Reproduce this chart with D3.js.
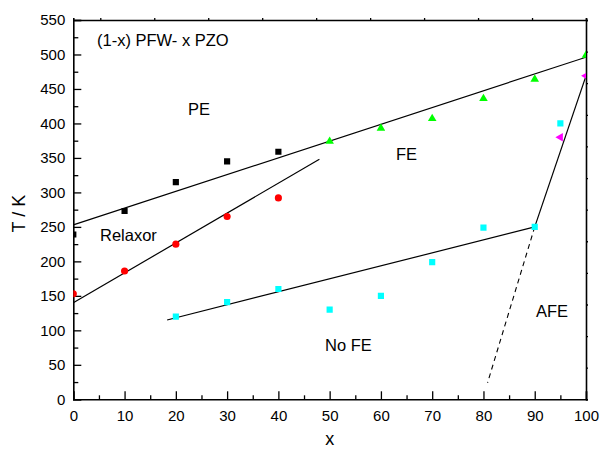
<!DOCTYPE html>
<html><head><meta charset="utf-8">
<script src="https://cdn.jsdelivr.net/npm/d3@7/dist/d3.min.js"></script>
<style>body{margin:0;background:#fff}svg{display:block}text{font-family:"Liberation Sans",Arial,sans-serif}</style>
</head><body><svg id="c" width="600" height="451"></svg>
<script>
// Data
const peX = [0, 10, 20, 30, 40];
const peT = [239, 273, 315, 345, 359];
const relX = [0, 10, 20, 30, 40];
const relT = [153, 186, 225, 265, 292];
const feX = [50, 60, 70, 80, 90, 100];
const feT = [374, 393, 407, 436, 464, 499];
const nfeX = [20, 30, 40, 50, 60, 70, 80, 90, 95];
const nfeT = [120, 141, 160, 130, 150, 199, 249, 250, 400];
const afeX = [95, 100];
const afeT = [380, 469];
// boundary lines [x1,T1,x2,T2]
const lineSolid = [[0, 253, 100, 496], [0, 140, 48, 348], [18.3, 115, 90, 250], [90, 250, 100, 469]];
const lineDashed = [[90, 250, 80.8, 24]];
const xTicks = [0, 10, 20, 30, 40, 50, 60, 70, 80, 90, 100];
const yTicks = [0, 50, 100, 150, 200, 250, 300, 350, 400, 450, 500, 550];
const labels = [["(1-x) PFW- x PZO", 97, 46], ["PE", 188, 115], ["FE", 396, 160], ["Relaxor", 100, 241], ["No FE", 325, 351], ["AFE", 536, 317]];

const L = 73.3, R = 586, T = 20, B = 399.3;
const x = d3.scaleLinear().domain([0, 100]).range([L, R]);
const y = d3.scaleLinear().domain([0, 550]).range([B, T]);
const svg = d3.select("#c");

svg.append("clipPath").attr("id", "clip").append("rect").attr("x", L).attr("y", T).attr("width", R - L).attr("height", B - T);

// axes
const ax = svg.append("g").attr("transform", `translate(0,${B})`)
  .call(d3.axisBottom(x).tickValues(d3.range(0, 101, 5)).tickSize(-8).tickPadding(11).tickFormat(d => xTicks.includes(d) ? d : ""));
ax.selectAll(".tick line").attr("y2", d => d % 10 === 0 ? -8 : -4);
const ay = svg.append("g").attr("transform", `translate(${L},0)`)
  .call(d3.axisLeft(y).tickValues(d3.range(0, 551, 25)).tickSize(-8).tickPadding(8).tickFormat(d => yTicks.includes(d) ? d : ""));
ay.selectAll(".tick line").attr("x2", d => d % 50 === 0 ? 8 : 5);
const xt = d3.scaleLinear().domain([0, 9.5]).range([R, L]);
svg.append("g").attr("transform", `translate(0,${T})`).call(d3.axisTop(xt).ticks(10).tickSize(2).tickFormat(""));
const yr = d3.scaleLinear().domain([0, 12]).range([B, T]);
svg.append("g").attr("transform", `translate(${R},0)`).call(d3.axisRight(yr).ticks(12).tickSize(2).tickFormat(""));
svg.selectAll(".domain").attr("stroke", "#000").attr("stroke-width", 1.6);
svg.selectAll(".tick line").attr("stroke", "#000").attr("stroke-width", 1.3);
svg.selectAll(".tick text").attr("font-size", 15).attr("fill", "#000").attr("font-family", '"Liberation Sans",Arial,sans-serif');

// axis titles
svg.append("text").attr("x", (L + R) / 2).attr("y", 445).attr("text-anchor", "middle").attr("font-size", 18).text("x");
svg.append("text").attr("transform", `translate(25,${(T + B) / 2 + 4}) rotate(-90)`).attr("text-anchor", "middle").attr("font-size", 18).text("T / K");

const plot = svg.append("g").attr("clip-path", "url(#clip)");
// lines
plot.selectAll(".ls").data(lineSolid).join("line").attr("x1", d => x(d[0])).attr("y1", d => y(d[1])).attr("x2", d => x(d[2])).attr("y2", d => y(d[3])).attr("stroke", "#000").attr("stroke-width", 1.2);
plot.selectAll(".ld").data(lineDashed).join("line").attr("x1", d => x(d[0])).attr("y1", d => y(d[1])).attr("x2", d => x(d[2])).attr("y2", d => y(d[3])).attr("stroke", "#000").attr("stroke-width", 1.1).attr("stroke-dasharray", "5,4");

// markers
function pts(xs, ts, sym, size, color, rot) {
  plot.append("g").selectAll("path").data(xs.map((v, i) => [v, ts[i]])).join("path")
    .attr("d", d3.symbol().type(sym).size(size))
    .attr("transform", d => `translate(${x(d[0])},${y(d[1])}) rotate(${rot || 0})`)
    .attr("fill", color);
}
pts(peX, peT, d3.symbolSquare, 38, "#000");
pts(relX, relT, d3.symbolCircle, 40, "#ff0000");
pts(feX, feT, d3.symbolTriangle, 32, "#00ff00");
pts(nfeX, nfeT, d3.symbolSquare, 38, "#00ffff");
pts(afeX, afeT, d3.symbolTriangle, 32, "#ff00ff", -90);

// labels
svg.selectAll(".lab").data(labels).join("text").attr("x", d => d[1]).attr("y", d => d[2]).attr("font-size", 16.5).attr("fill", "#000").text(d => d[0]);
</script></body></html>
